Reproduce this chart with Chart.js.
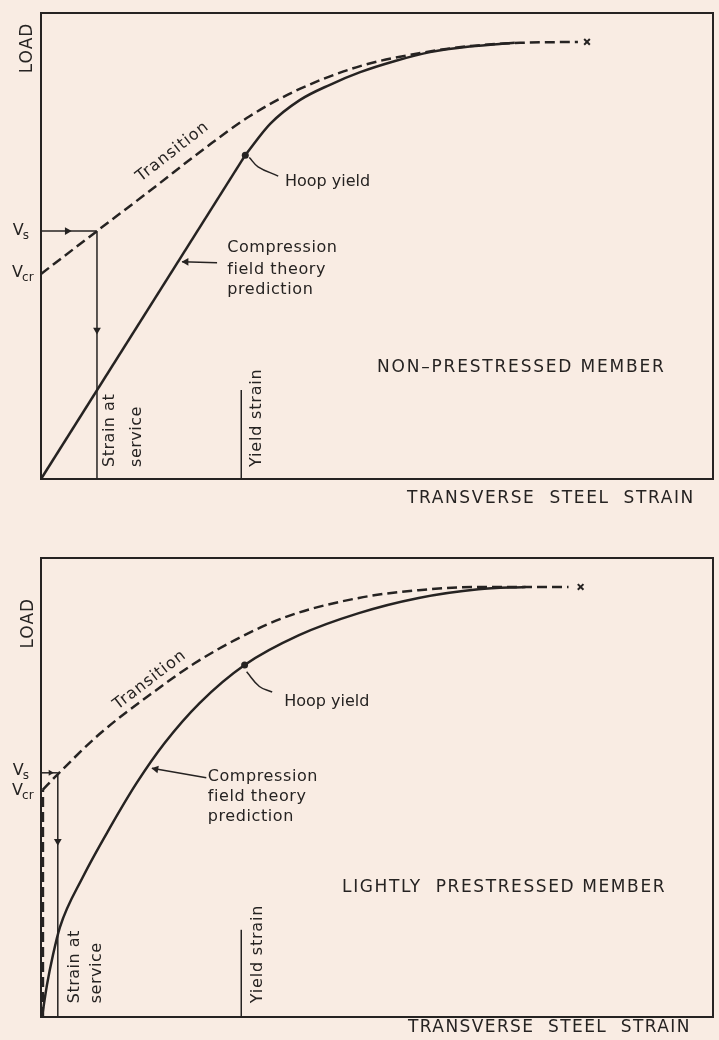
<!DOCTYPE html>
<html lang="en">
<head>
<meta charset="UTF-8">
<title>Load vs transverse steel strain</title>
<script src="https://cdn.jsdelivr.net/npm/chart.js"></script>
<style>
  body { margin: 0; background: #f9ece3; }
  .panel { position: absolute; left: 0; width: 719px; height: 520px; }
  #panel1 { top: 0; }
  #panel2 { top: 520px; }
</style>
</head>
<body>
<div class="panel" id="panel1"><canvas id="chartTop" width="719" height="520"></canvas></div>
<div class="panel" id="panel2"><canvas id="chartBottom" width="719" height="520"></canvas></div>

<script>
// both axes run 0..100 (relative strain / relative load), no ticks in the figure

// ---- top: non-prestressed member
const topCftLinear = [[0, 0], [30.4, 69.5]];
const topCftCurve = [[30.4, 69.5], [34.1, 76.2], [38.5, 81.3], [43.0, 84.6], [47.5, 87.3], [52.7, 89.7], [57.9, 91.6], [63.8, 92.8], [70.5, 93.6]];
const topTransition = [[0, 44.0], [8.33, 53.2], [16.7, 62.4], [24.4, 71.0], [31.1, 77.9], [38.5, 83.7], [47.5, 88.6], [56.4, 91.4], [63.8, 92.9], [71.3, 93.6], [79.9, 93.8]];
const topVsLine = [[0, 53.2], [8.33, 53.2]];
const topServiceLine = [[8.33, 53.2], [8.33, 0]];
const topYieldLine = [[29.8, 0], [29.8, 19.1]];
const topHoopYield = [[30.4, 69.5]];
const topFailure = [[81.25, 93.8]];
const topHoopLeader = [[31, 69], [32.3, 67.0], [35.3, 65.0]];
const topCftLeader = [[21.0, 46.6], [26.2, 46.4]];

// ---- bottom: lightly prestressed member
const botCft = [[0.15, 0], [0.89, 7.0], [1.78, 13.5], [2.82, 19.6], [6.23, 30.5], [10.24, 41.2], [14.24, 51.0], [18.4, 59.7], [23.6, 68.4], [30.3, 76.7], [38.4, 83.2], [47.3, 88.0], [56.2, 91.3], [65.1, 93.2], [72.1, 93.7]];
const botUncracked = [[0.25, 0], [0.25, 49.5]];
const botTransition = [[0.25, 49.5], [2.37, 52.7], [8.75, 61.7], [16.2, 70.2], [22.8, 77.0], [29.5, 82.6], [36.9, 87.4], [47.3, 91.3], [56.2, 93.0], [66.2, 93.7], [78.5, 93.7]];
const botVsLine = [[0, 53.2], [2.5, 53.2]];
const botServiceLine = [[2.5, 53.2], [2.5, 0]];
const botYieldLine = [[29.8, 0], [29.8, 19.0]];
const botHoopYield = [[30.3, 76.7]];
const botFailure = [[80.3, 93.7]];
const botHoopLeader = [[30.6, 75.2], [32.5, 72.0], [34.4, 70.8]];
const botCftLeader = [[16.5, 54.2], [24.6, 52.1]];

const INK = '#262322';
const FONT = 'DejaVu Sans';

const pts = arr => arr.map(([x, y]) => ({ x, y }));

function line(arr, extra) {
  return Object.assign({
    data: pts(arr), showLine: true, borderColor: INK, borderWidth: 2.5,
    pointRadius: 0, fill: false, clip: false, tension: 0
  }, extra);
}

function mark(arr, style, radius, rotation) {
  return {
    data: pts(arr), showLine: false, pointStyle: style, pointRadius: radius,
    rotation: rotation || 0, backgroundColor: INK, borderColor: INK,
    borderWidth: style === 'crossRot' ? 2 : 0, clip: false
  };
}

// frame + all the hand lettering of the figure
const lettering = {
  id: 'lettering',
  beforeDatasetsDraw(chart) {
    const { ctx, chartArea: a } = chart;
    ctx.save();
    ctx.strokeStyle = INK;
    ctx.lineWidth = 2;
    ctx.strokeRect(a.left, a.top, a.width, a.height);
    ctx.restore();
  },
  afterDatasetsDraw(chart, args, opts) {
    const { ctx, scales: { x, y } } = chart;
    ctx.save();
    ctx.fillStyle = INK;
    ctx.textBaseline = 'middle';
    opts.items.forEach(it => {
      ctx.save();
      ctx.translate(x.getPixelForValue(it.x), y.getPixelForValue(it.y));
      if (it.rot) ctx.rotate(it.rot * Math.PI / 180);
      ctx.font = (it.size || 16) + 'px "' + FONT + '"';
      ctx.letterSpacing = (it.ls || 0) + 'px';
      ctx.textAlign = it.align || 'left';
      ctx.fillText(it.text, 0, 0);
      if (it.sub) {
        const w = ctx.measureText(it.text).width;
        ctx.font = '12px "' + FONT + '"';
        ctx.fillText(it.sub, w - 1, 5);
      }
      ctx.restore();
    });
    ctx.restore();
  }
};

function makeChart(id, padding, datasets, items) {
  return new Chart(document.getElementById(id), {
    type: 'scatter',
    data: { datasets },
    options: {
      responsive: false,
      animation: false,
      layout: { padding },
      scales: {
        x: { type: 'linear', min: 0, max: 100, display: false },
        y: { type: 'linear', min: 0, max: 100, display: false }
      },
      plugins: {
        legend: { display: false },
        tooltip: { enabled: false },
        lettering: { items }
      }
    },
    plugins: [lettering]
  });
}

const dashed = { borderDash: [10, 5], borderWidth: 2.5 };
const thin = { borderWidth: 1.5 };
const smooth = { cubicInterpolationMode: 'monotone' };

makeChart('chartTop', { top: 13, left: 41, right: 6, bottom: 41 }, [
  line(topCftLinear),
  line(topCftCurve, smooth),
  line(topTransition, Object.assign({}, smooth, dashed)),
  line(topVsLine, thin),
  line(topServiceLine, thin),
  line(topYieldLine, thin),
  line(topHoopLeader, { borderWidth: 1.5, tension: 0.4 }),
  line(topCftLeader, thin),
  mark(topHoopYield, 'circle', 3.5),
  mark(topFailure, 'crossRot', 4),
  mark([[3.9, 53.2]], 'triangle', 4.5, 90),
  mark([[8.33, 32]], 'triangle', 4.5, 180),
  mark([[21.6, 46.6]], 'triangle', 4.5, -90)
], [
  { text: 'LOAD', x: -1.93, y: 92.5, rot: -90, align: 'center', size: 17, ls: 1 },
  { text: 'V', sub: 's', x: -4.2, y: 53.2 },
  { text: 'V', sub: 'cr', x: -4.3, y: 44.2 },
  { text: 'Transition', x: 19.6, y: 70.2, rot: -38, align: 'center', ls: 1 },
  { text: 'Hoop yield', x: 36.3, y: 63.7 },
  { text: 'Compression', x: 27.7, y: 49.6, ls: 0.6 },
  { text: 'field theory', x: 27.7, y: 44.8, ls: 0.6 },
  { text: 'prediction', x: 27.7, y: 40.6, ls: 0.6 },
  { text: 'NON\u2013PRESTRESSED MEMBER', x: 50, y: 24.0, size: 17, ls: 1.8 },
  { text: 'TRANSVERSE  STEEL  STRAIN', x: 97.3, y: -4.3, align: 'right', size: 17, ls: 1.6 },
  { text: 'Strain at', x: 10.3, y: 2.6, rot: -90, ls: 0.5 },
  { text: 'service', x: 14.3, y: 2.6, rot: -90, ls: 0.5 },
  { text: 'Yield strain', x: 32.1, y: 2.6, rot: -90, ls: 0.8 }
]);

makeChart('chartBottom', { top: 38, left: 41, right: 4, bottom: 23 }, [
  line(botCft, smooth),
  line(botUncracked, { borderDash: [10, 5], borderWidth: 3 }),
  line(botTransition, Object.assign({}, smooth, dashed)),
  line(botVsLine, thin),
  line(botServiceLine, thin),
  line(botYieldLine, thin),
  line(botHoopLeader, { borderWidth: 1.5, tension: 0.4 }),
  line(botCftLeader, thin),
  mark(botHoopYield, 'circle', 3.5),
  mark(botFailure, 'crossRot', 4),
  mark([[1.4, 53.2]], 'triangle', 3.5, 90),
  mark([[2.5, 38.3]], 'triangle', 4.5, 180),
  mark([[17.1, 54.0]], 'triangle', 4.5, -80)
], [
  { text: 'LOAD', x: -1.9, y: 85.8, rot: -90, align: 'center', size: 17, ls: 1 },
  { text: 'V', sub: 's', x: -4.2, y: 53.6 },
  { text: 'V', sub: 'cr', x: -4.3, y: 49.3 },
  { text: 'Transition', x: 16.2, y: 73.4, rot: -37.5, align: 'center', ls: 1 },
  { text: 'Hoop yield', x: 36.2, y: 68.6 },
  { text: 'Compression', x: 24.8, y: 52.4, ls: 0.6 },
  { text: 'field theory', x: 24.8, y: 47.9, ls: 0.6 },
  { text: 'prediction', x: 24.8, y: 43.5, ls: 0.6 },
  { text: 'LIGHTLY  PRESTRESSED MEMBER', x: 44.8, y: 28.1, size: 17, ls: 1.6 },
  { text: 'TRANSVERSE  STEEL  STRAIN', x: 96.7, y: -2.4, align: 'right', size: 17, ls: 1.4 },
  { text: 'Strain at', x: 5.0, y: 3.0, rot: -90, ls: 0.5 },
  { text: 'service', x: 8.3, y: 3.0, rot: -90, ls: 0.5 },
  { text: 'Yield strain', x: 32.2, y: 3.0, rot: -90, ls: 0.8 }
]);
</script>
</body>
</html>
